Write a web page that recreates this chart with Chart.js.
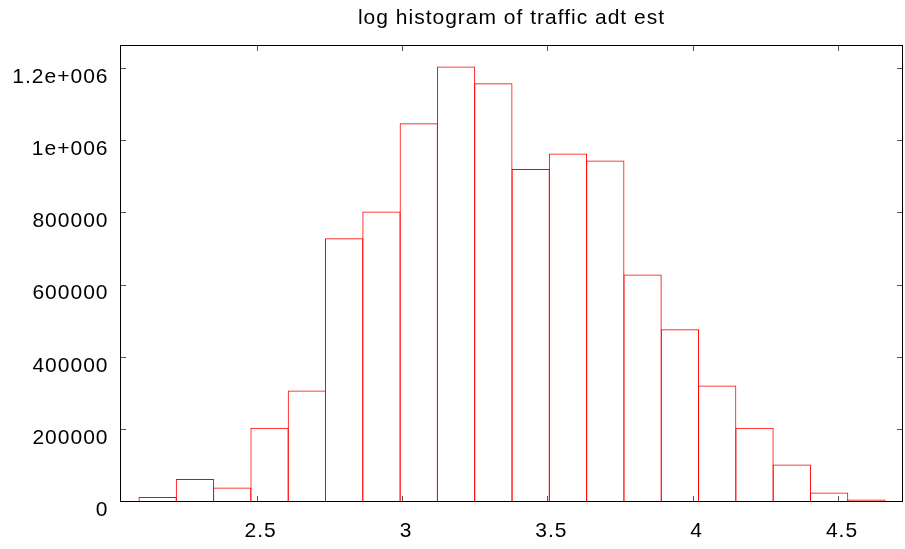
<!DOCTYPE html>
<html>
<head>
<meta charset="utf-8">
<title>log histogram of traffic adt est</title>
<script src="https://cdn.jsdelivr.net/npm/chart.js@4/dist/chart.umd.min.js"></script>
<style>
  html, body { margin: 0; padding: 0; background: #fff; }
  #wrap { width: 905px; height: 549px; }
</style>
</head>
<body>
<div id="wrap"><canvas id="histChart" width="905" height="549"></canvas></div>
<script>
'use strict';

// bin centres (log10 of ADT estimate) and counts per bin
const binCenters = [
    2.1592, 2.2875, 2.4159, 2.5442, 2.6726, 2.8009, 2.9293, 3.0576, 3.1860, 3.3143,
    3.4427, 3.5710, 3.6994, 3.8277, 3.9561, 4.0844, 4.2128, 4.3411, 4.4695, 4.5978
];
const binCounts = [
    14000, 64000, 40000, 206000, 309000, 731000, 805000, 1050000, 1207000, 1161000,
    923000, 966000, 947000, 631000, 479000, 323000, 206000, 104000, 26000, 7000
];

const xTickValues = [2.5, 3, 3.5, 4, 4.5];
const xTickLabels = ['2.5', '3', '3.5', '4', '4.5'];
const yTickValues = [0, 200000, 400000, 600000, 800000, 1000000, 1200000];
const yTickLabels = ['0', '200000', '400000', '600000', '800000', '1e+006', '1.2e+006'];

const xRange = [2.0297, 4.7237];
const yRange = [0, 1266900];

Chart.defaults.font.family = "'Liberation Sans', Arial, sans-serif";
Chart.defaults.font.size = 21;
Chart.defaults.color = '#000';

// gnuplot-like spacing between glyphs
const letterSpacingPlugin = {
    id: 'letterSpacing',
    beforeDraw(chart) {
        chart.ctx.letterSpacing = '1px';
    }
};

// black frame around the plot with short inward ticks on all four sides
const framePlugin = {
    id: 'frame',
    afterDatasetsDraw(chart) {
        const { ctx, chartArea: a, scales } = chart;
        const len = 6;
        ctx.save();
        ctx.lineWidth = 1;

        ctx.strokeStyle = '#555';
        ctx.beginPath();
        xTickValues.forEach(function (v) {
            const px = Math.round(scales.x.getPixelForValue(v)) + 0.5;
            ctx.moveTo(px, a.bottom);
            ctx.lineTo(px, a.bottom - len);
            ctx.moveTo(px, a.top);
            ctx.lineTo(px, a.top + len);
        });
        yTickValues.forEach(function (v) {
            const py = Math.round(scales.y.getPixelForValue(v)) - 0.5;
            ctx.moveTo(a.left, py);
            ctx.lineTo(a.left + len, py);
            ctx.moveTo(a.right, py);
            ctx.lineTo(a.right - len, py);
        });
        ctx.stroke();

        ctx.strokeStyle = '#000';
        ctx.strokeRect(a.left + 0.5, a.top + 0.5, a.right - a.left - 1, a.bottom - a.top - 1);
        ctx.restore();
    }
};

const ctxHist = document.getElementById('histChart');

new Chart(ctxHist, {
    type: 'bar',
    data: {
        datasets: [{
            label: 'count',
            data: binCenters.map(function (x, i) { return { x: x, y: binCounts[i] }; }),
            backgroundColor: 'rgba(0,0,0,0)',
            borderColor: '#ff0000',
            borderWidth: 1,
            borderSkipped: 'start',
            // slightly wider than the bin so neighbouring outlines share one line
            barPercentage: 1.0268,
            categoryPercentage: 1
        }]
    },
    options: {
        responsive: false,
        devicePixelRatio: 1,
        animation: false,
        layout: { padding: { left: 0, right: 2, top: 0, bottom: 0 } },
        plugins: {
            legend: { display: false },
            tooltip: { enabled: false },
            title: {
                display: true,
                fullSize: false,
                text: 'log histogram of traffic adt est',
                color: '#000',
                font: { size: 21, weight: 'normal', lineHeight: 1.2 },
                padding: { top: 6, bottom: 13.8 }
            }
        },
        scales: {
            x: {
                type: 'linear',
                min: xRange[0],
                max: xRange[1],
                offset: false,
                grid: { display: false, drawTicks: false },
                border: { display: false },
                afterBuildTicks: function (scale) {
                    scale.ticks = xTickValues.map(function (v) { return { value: v }; });
                },
                afterFit: function (scale) { scale.height = 47; },
                ticks: {
                    padding: 16.5,
                    labelOffset: 4,
                    maxRotation: 0,
                    autoSkip: false,
                    callback: function (value, index) { return xTickLabels[index]; }
                }
            },
            y: {
                min: yRange[0],
                max: yRange[1],
                grid: { display: false, drawTicks: false },
                border: { display: false },
                afterBuildTicks: function (scale) {
                    scale.ticks = yTickValues.map(function (v) { return { value: v }; });
                },
                afterFit: function (scale) { scale.width = 120; },
                ticks: {
                    padding: 11.5,
                    labelOffset: 8,
                    autoSkip: false,
                    callback: function (value, index) { return yTickLabels[index]; }
                }
            }
        }
    },
    plugins: [letterSpacingPlugin, framePlugin]
});
</script>
</body>
</html>
